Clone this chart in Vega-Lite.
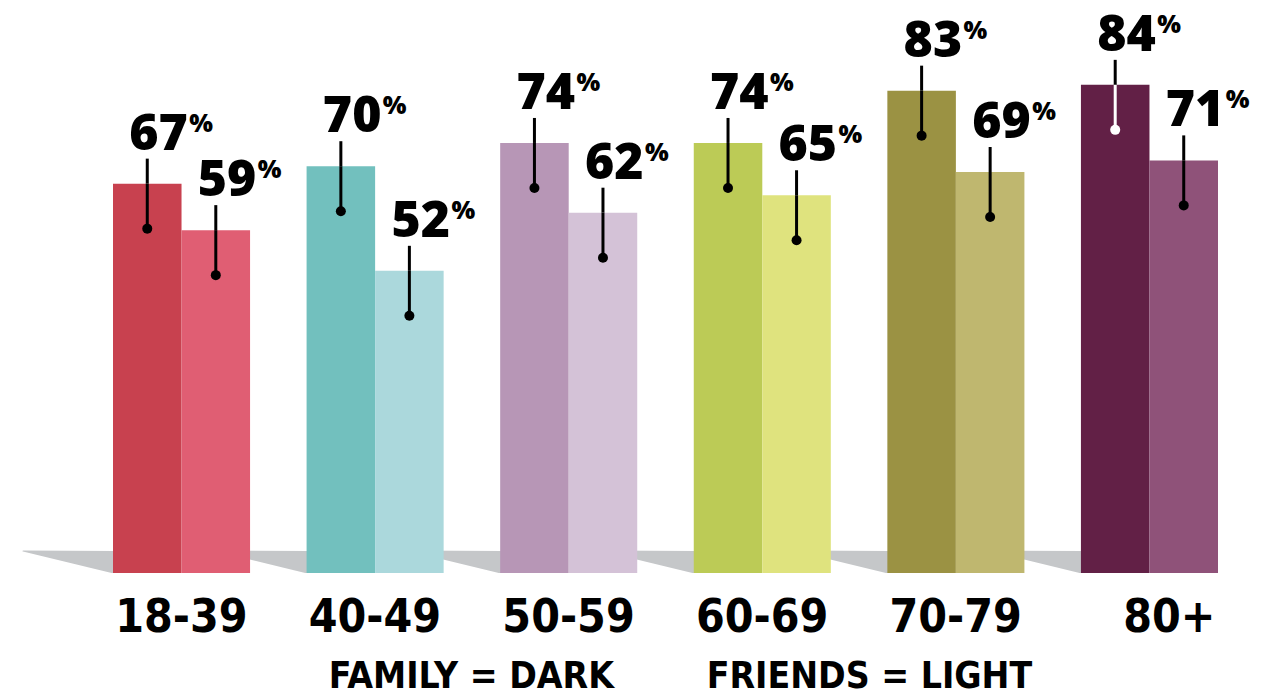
{
  "$schema": "https://vega.github.io/schema/vega-lite/v6.json",
  "width": 1105,
  "height": 573,
  "autosize": {"type": "none"},
  "padding": {"left": 113, "right": 58, "top": 0, "bottom": 122},
  "background": "white",
  "config": {"view": {"stroke": null}},
  "datasets": {
    "pct": [
      {"age": "18-39", "who": "Family", "pct": 67},
      {"age": "18-39", "who": "Friends", "pct": 59},
      {"age": "40-49", "who": "Family", "pct": 70},
      {"age": "40-49", "who": "Friends", "pct": 52},
      {"age": "50-59", "who": "Family", "pct": 74},
      {"age": "50-59", "who": "Friends", "pct": 62},
      {"age": "60-69", "who": "Family", "pct": 74},
      {"age": "60-69", "who": "Friends", "pct": 65},
      {"age": "70-79", "who": "Family", "pct": 83},
      {"age": "70-79", "who": "Friends", "pct": 69},
      {"age": "80+", "who": "Family", "pct": 84},
      {"age": "80+", "who": "Friends", "pct": 71}
    ],
    "shadow": [
      {"age": "18-39", "pt": "tip"}, {"age": "18-39", "pt": "base"},
      {"age": "40-49", "pt": "tip"}, {"age": "40-49", "pt": "base"},
      {"age": "50-59", "pt": "tip"}, {"age": "50-59", "pt": "base"},
      {"age": "60-69", "pt": "tip"}, {"age": "60-69", "pt": "base"},
      {"age": "70-79", "pt": "tip"}, {"age": "70-79", "pt": "base"},
      {"age": "80+", "pt": "tip"}, {"age": "80+", "pt": "base"}
    ]
  },
  "layer": [
    {
      "data": {"name": "shadow"},
      "mark": {"type": "trail", "color": "#c5c7c9"},
      "encoding": {
        "x": {"field": "age", "type": "nominal", "sort": ["18-39", "40-49", "50-59", "60-69", "70-79", "80+"], "scale": {"type": "band", "paddingInner": 0.292, "paddingOuter": 0}},
        "xOffset": {"field": "pt", "type": "nominal", "scale": {"type": "point", "domain": ["tip", "base"], "range": [-90, 0], "padding": 0}},
        "y": {"field": "pt", "type": "nominal", "scale": {"type": "point", "domain": ["tip", "base"], "range": [551, 562], "padding": 0}, "axis": null},
        "size": {"field": "pt", "type": "ordinal", "scale": {"domain": ["tip", "base"], "range": [0, 22]}, "legend": null},
        "detail": {"field": "age"}
      }
    },
    {
      "data": {"name": "pct"},
      "encoding": {
        "x": {
          "field": "age", "type": "nominal",
          "sort": ["18-39", "40-49", "50-59", "60-69", "70-79", "80+"],
          "scale": {"type": "band", "paddingInner": 0.292, "paddingOuter": 0},
          "axis": {
            "title": "FAMILY = DARK\u00a0\u00a0\u00a0\u00a0\u00a0\u00a0\u00a0\u00a0FRIENDS = LIGHT",
            "domain": false, "ticks": false, "labelAngle": 0, "labelOffset": 66,
            "labelFont": "DejaVu Sans Condensed", "labelFontWeight": "bold", "labelFontSize": 46, "labelColor": "black", "labelBaseline": "alphabetic", "labelPadding": 58,
            "titleFont": "DejaVu Sans Condensed", "titleFontWeight": "bold", "titleFontSize": 37, "titleColor": "black", "titlePadding": 18, "titleX": 567
          }
        },
        "xOffset": {"field": "who", "type": "nominal", "scale": {"domain": ["Family", "Friends"], "paddingInner": 0, "paddingOuter": 0}},
        "y": {"field": "pct", "type": "quantitative", "scale": {"domain": [0, 98.6], "nice": false, "zero": true}, "axis": null}
      },
      "layer": [
        {
          "transform": [{"filter": "datum.who === 'Family'"}],
          "mark": {"type": "bar"},
          "encoding": {
            "color": {"field": "age", "type": "nominal", "scale": {"domain": ["18-39", "40-49", "50-59", "60-69", "70-79", "80+"], "range": ["#c8414f", "#72c0be", "#b796b6", "#bccb56", "#9b9243", "#622046"]}, "legend": null}
          }
        },
        {
          "transform": [{"filter": "datum.who === 'Friends'"}],
          "mark": {"type": "bar"},
          "encoding": {
            "color": {"field": "age", "type": "nominal", "scale": {"domain": ["18-39", "40-49", "50-59", "60-69", "70-79", "80+"], "range": ["#e05e73", "#abd8dc", "#d4c2d7", "#dfe37e", "#bfb76f", "#8f5279"]}, "legend": null}
          }
        },
        {
          "mark": {"type": "rule", "strokeWidth": 3, "color": "black", "yOffset": -25, "y2Offset": 0},
          "encoding": {"y2": {"field": "pct"}}
        },
        {
          "mark": {"type": "rule", "strokeWidth": 3, "yOffset": 0, "y2Offset": 45},
          "encoding": {
            "y2": {"field": "pct"},
            "color": {"condition": {"test": "datum.age === '80+' && datum.who === 'Family'", "value": "white"}, "value": "black"}
          }
        },
        {
          "mark": {"type": "point", "filled": true, "size": 100, "opacity": 1, "yOffset": 45},
          "encoding": {
            "color": {"condition": {"test": "datum.age === '80+' && datum.who === 'Family'", "value": "white"}, "value": "black"}
          }
        },
        {
          "mark": {"type": "text", "font": "Open Sans", "fontWeight": 800, "fontSize": 50, "align": "left", "baseline": "alphabetic", "dx": -18, "dy": -34, "color": "black"},
          "encoding": {"text": {"field": "pct", "type": "quantitative"}}
        },
        {
          "mark": {"type": "text", "font": "Open Sans", "fontWeight": 800, "fontSize": 25, "align": "left", "baseline": "alphabetic", "dx": 42, "dy": -52, "color": "black"},
          "encoding": {"text": {"value": "%"}}
        }
      ],
      "resolve": {"scale": {"color": "independent"}}
    }
  ],
  "resolve": {"scale": {"y": "independent", "xOffset": "independent", "size": "independent"}}
}
